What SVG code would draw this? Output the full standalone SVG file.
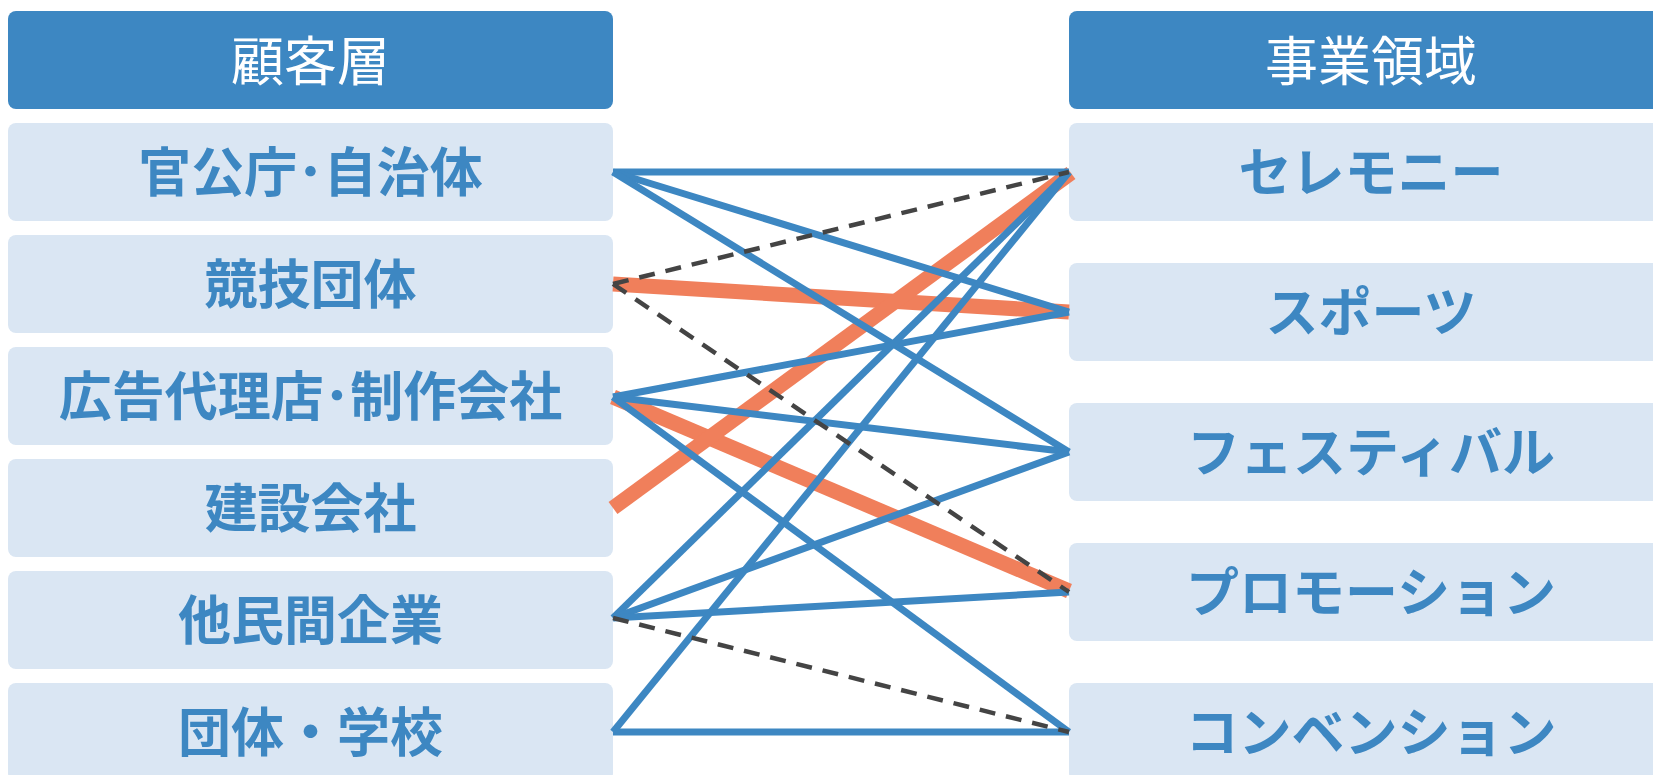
<svg xmlns="http://www.w3.org/2000/svg" width="1653" height="775" viewBox="0 0 1653 775">
  <style>
    .hdr { fill: #3d87c2; }
    .node { fill: #dae6f3; }
    .htxt { font-family: "Noto Sans CJK JP", "Noto Sans", sans-serif; font-size: 53px; font-weight: 400; fill: #ffffff; text-anchor: middle; }
    .ntxt { font-family: "Noto Sans CJK JP", "Noto Sans", sans-serif; font-size: 53px; font-weight: 700; fill: #3d87c2; text-anchor: middle; }
    .blue { stroke: #3d87c2; stroke-width: 7; fill: none; }
    .orange { stroke: #f07f5b; stroke-width: 15; fill: none; }
    .dash { stroke: #444444; stroke-width: 4.5; stroke-dasharray: 16 11; fill: none; }
  </style>
  <rect width="1653" height="775" fill="#ffffff"/>

  <g id="header-left">
    <rect class="hdr" x="8" y="11" width="605" height="98" rx="8"/>
    <text class="htxt" x="310.5" y="81">顧客層</text>
  </g>
  <g id="header-right">
    <rect class="hdr" x="1069" y="11" width="605" height="98" rx="8"/>
    <text class="htxt" x="1371" y="81">事業領域</text>
  </g>

  <g id="c1">
    <rect class="node" x="8" y="123" width="605" height="98" rx="8"/>
    <text class="ntxt" x="310.5" y="192">官公庁･自治体</text>
  </g>
  <g id="c2">
    <rect class="node" x="8" y="235" width="605" height="98" rx="8"/>
    <text class="ntxt" x="310.5" y="304">競技団体</text>
  </g>
  <g id="c3">
    <rect class="node" x="8" y="347" width="605" height="98" rx="8"/>
    <text class="ntxt" x="310.5" y="416">広告代理店･制作会社</text>
  </g>
  <g id="c4">
    <rect class="node" x="8" y="459" width="605" height="98" rx="8"/>
    <text class="ntxt" x="310.5" y="528">建設会社</text>
  </g>
  <g id="c5">
    <rect class="node" x="8" y="571" width="605" height="98" rx="8"/>
    <text class="ntxt" x="310.5" y="640">他民間企業</text>
  </g>
  <g id="c6">
    <rect class="node" x="8" y="683" width="605" height="98" rx="8"/>
    <text class="ntxt" x="310.5" y="752">団体・学校</text>
  </g>

  <g id="b1">
    <rect class="node" x="1069" y="123" width="605" height="98" rx="8"/>
    <text class="ntxt" x="1371" y="192">セレモニー</text>
  </g>
  <g id="b2">
    <rect class="node" x="1069" y="263" width="605" height="98" rx="8"/>
    <text class="ntxt" x="1371" y="332">スポーツ</text>
  </g>
  <g id="b3">
    <rect class="node" x="1069" y="403" width="605" height="98" rx="8"/>
    <text class="ntxt" x="1371" y="472">フェスティバル</text>
  </g>
  <g id="b4">
    <rect class="node" x="1069" y="543" width="605" height="98" rx="8"/>
    <text class="ntxt" x="1371" y="612">プロモーション</text>
  </g>
  <g id="b5">
    <rect class="node" x="1069" y="683" width="605" height="98" rx="8"/>
    <text class="ntxt" x="1371" y="752">コンベンション</text>
  </g>

  <g id="connectors">
    <line class="orange" x1="613" y1="284" x2="1069" y2="312"/>
    <line class="orange" x1="613" y1="397" x2="1069" y2="591"/>
    <line class="orange" x1="613" y1="508" x2="1071" y2="173"/>

    <line class="blue" x1="613" y1="172" x2="1069" y2="172"/>
    <line class="blue" x1="613" y1="172" x2="1069" y2="312"/>
    <line class="blue" x1="613" y1="172" x2="1069" y2="452"/>
    <line class="blue" x1="613" y1="397" x2="1069" y2="312"/>
    <line class="blue" x1="613" y1="397" x2="1069" y2="452"/>
    <line class="blue" x1="613" y1="397" x2="1069" y2="732"/>
    <line class="blue" x1="613" y1="618" x2="1069" y2="172"/>
    <line class="blue" x1="613" y1="618" x2="1069" y2="452"/>
    <line class="blue" x1="613" y1="618" x2="1069" y2="592"/>
    <line class="blue" x1="613" y1="732" x2="1069" y2="172"/>
    <line class="blue" x1="613" y1="732" x2="1069" y2="732"/>

    <line class="dash" x1="613" y1="284" x2="1069" y2="172"/>
    <line class="dash" x1="613" y1="284" x2="1069" y2="592"/>
    <line class="dash" x1="613" y1="618" x2="1069" y2="732"/>
  </g>
</svg>
